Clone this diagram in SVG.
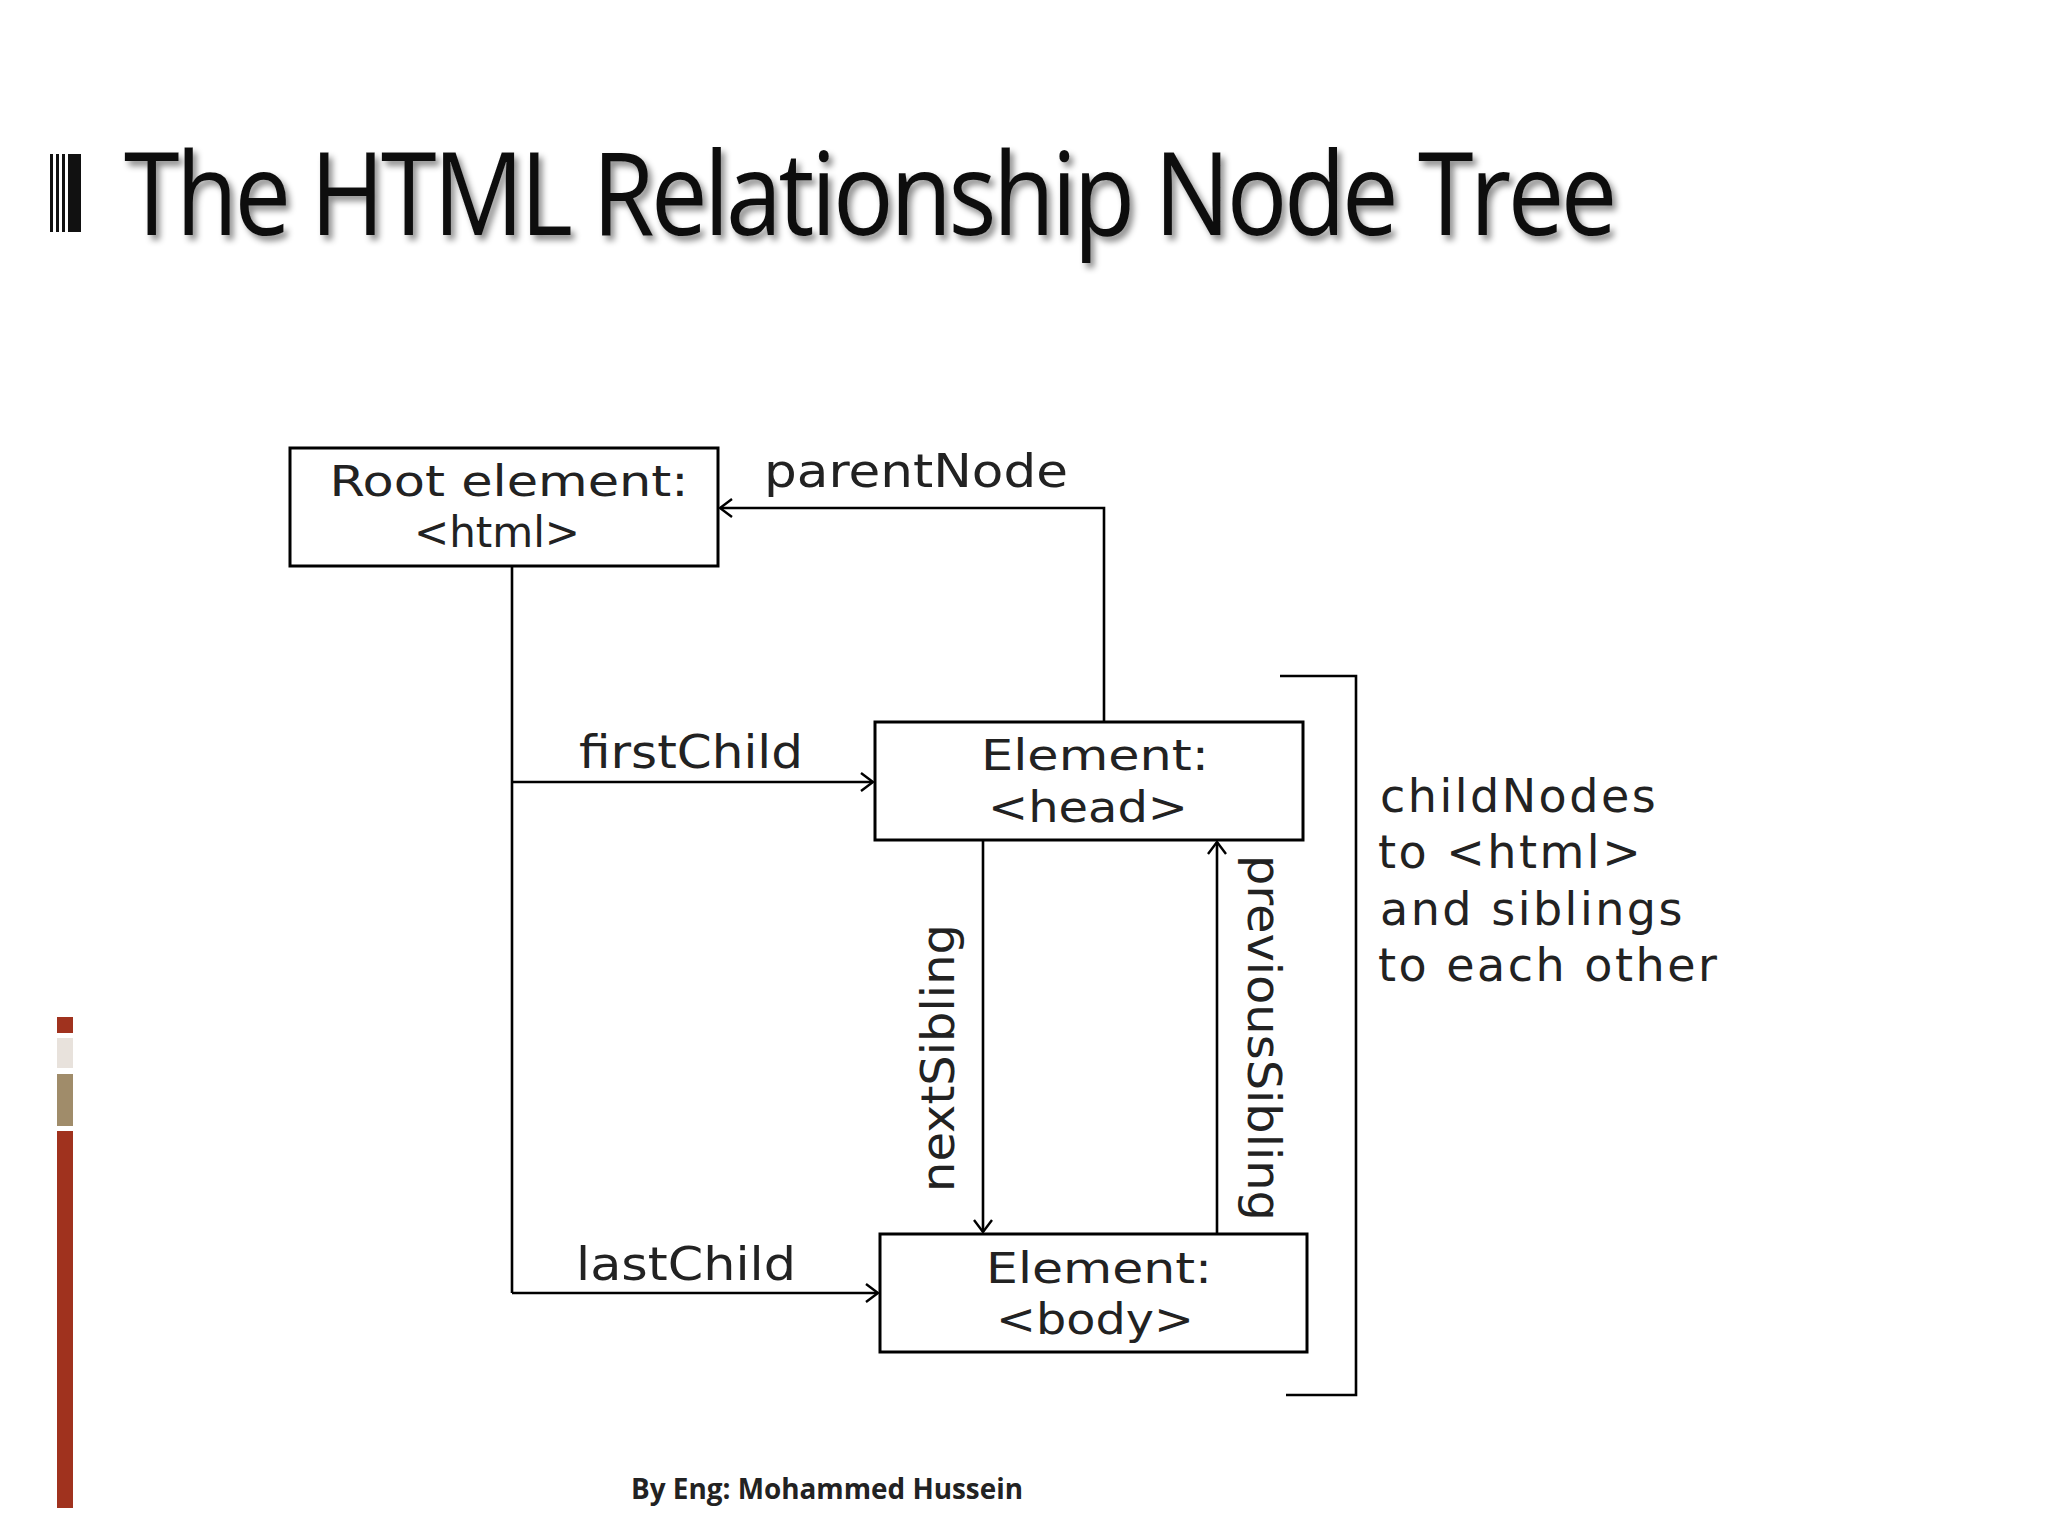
<svg xmlns="http://www.w3.org/2000/svg" width="2048" height="1536" viewBox="0 0 2048 1536">
<style>
.box{fill:#fff;stroke:#000;stroke-width:3}
.ln{fill:none;stroke:#000;stroke-width:2.6}
.t{font-family:"DejaVu Sans",Verdana,sans-serif;font-size:46px;fill:#222}
.b{font-size:42px}
.c{letter-spacing:2.5px}
</style>
<defs>
<marker id="a" markerWidth="14" markerHeight="20" refX="13" refY="10" orient="auto" markerUnits="userSpaceOnUse">
<path d="M1,1 L13,10 L1,19" fill="none" stroke="#000" stroke-width="2.4"/>
</marker>
<filter id="sh"><feDropShadow dx="4" dy="5" stdDeviation="3" flood-color="#000" flood-opacity="0.45"/></filter>
</defs>
<rect width="2048" height="1536" fill="#fff"/>
<g id="titlebar" fill="#111">
<rect x="50" y="154" width="3" height="78"/><rect x="56" y="154" width="3" height="78"/><rect x="62" y="154" width="3" height="78"/><rect x="68" y="154" width="13" height="78"/>
</g>
<text x="124" y="235" font-family="'Open Sans',Lato,sans-serif" font-size="116" fill="#111" textLength="1490" lengthAdjust="spacingAndGlyphs" letter-spacing="-4" filter="url(#sh)">The HTML  Relationship Node Tree</text>
<g id="accent">
<rect x="57" y="1017" width="16" height="16" fill="#A0321E"/>
<rect x="57" y="1038" width="16" height="30" fill="#E8E2DC"/>
<rect x="57" y="1074" width="16" height="52" fill="#A08C6A"/>
<rect x="57" y="1131" width="16" height="377" fill="#A0321E"/>
</g>
<g id="connectors">
<path class="ln" d="M1104,722 V508 H720" marker-end="url(#a)"/>
<path class="ln" d="M512,566 V1293"/>
<path class="ln" d="M512,782 H873" marker-end="url(#a)"/>
<path class="ln" d="M512,1293 H878" marker-end="url(#a)"/>
<path class="ln" d="M983,840 V1232" marker-end="url(#a)"/>
<path class="ln" d="M1217,1234 V842" marker-end="url(#a)"/>
<path class="ln" d="M1280,676 H1356 V1395 H1286"/>
<text class="t" x="764" y="487" textLength="304" lengthAdjust="spacingAndGlyphs">parentNode</text>
<text class="t" x="579" y="768" textLength="224" lengthAdjust="spacingAndGlyphs">firstChild</text>
<text class="t" x="576" y="1280" textLength="220" lengthAdjust="spacingAndGlyphs">lastChild</text>
<text class="t" transform="translate(954,1058) rotate(-90)" text-anchor="middle" textLength="268" lengthAdjust="spacingAndGlyphs">nextSibling</text>
<text class="t" transform="translate(1248,1038) rotate(90)" text-anchor="middle" textLength="366" lengthAdjust="spacingAndGlyphs">previousSibling</text>
</g>
<g id="root">
<rect class="box" x="290" y="448" width="428" height="118"/>
<text class="t b" x="509" y="496" text-anchor="middle" textLength="359" lengthAdjust="spacingAndGlyphs">Root element:</text>
<text class="t b" x="497" y="547" text-anchor="middle">&lt;html&gt;</text>
</g>
<g id="head">
<rect class="box" x="875" y="722" width="428" height="118"/>
<text class="t b" x="1095" y="770" text-anchor="middle" textLength="228" lengthAdjust="spacingAndGlyphs">Element:</text>
<text class="t b" x="1088" y="822" text-anchor="middle" textLength="200" lengthAdjust="spacingAndGlyphs">&lt;head&gt;</text>
</g>
<g id="body">
<rect class="box" x="880" y="1234" width="427" height="118"/>
<text class="t b" x="1099" y="1283" text-anchor="middle" textLength="226" lengthAdjust="spacingAndGlyphs">Element:</text>
<text class="t b" x="1095" y="1334" text-anchor="middle" textLength="198" lengthAdjust="spacingAndGlyphs">&lt;body&gt;</text>
</g>
<g id="childnodes">
<text class="t c" x="1380" y="812">childNodes</text>
<text class="t c" x="1378" y="868">to &lt;html&gt;</text>
<text class="t c" x="1380" y="925">and siblings</text>
<text class="t c" x="1378" y="981">to each other</text>
</g>
<text x="631" y="1499" font-family="'Open Sans',sans-serif" font-weight="bold" font-size="28" fill="#222" textLength="392" lengthAdjust="spacingAndGlyphs">By  Eng: Mohammed Hussein</text>
</svg>
